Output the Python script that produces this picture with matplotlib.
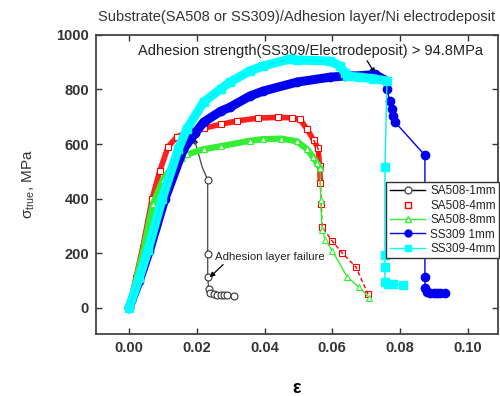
import matplotlib
matplotlib.use("Agg")
import matplotlib.pyplot as plt
from matplotlib.lines import Line2D

plt.rcParams['font.family'] = ['Liberation Sans', 'DejaVu Sans']
plt.rcParams['mathtext.fontset'] = 'custom'
plt.rcParams['mathtext.rm'] = 'Liberation Sans'
plt.rcParams['mathtext.it'] = 'Liberation Sans'

# ---- data ----
labels = ["SA508-1mm", "SA508-4mm", "SA508-8mm", "SS309 1mm", "SS309-4mm"]

eps_sa1 = [0, 0.002, 0.004, 0.0068, 0.009, 0.0115, 0.014, 0.017, 0.0195, 0.0207, 0.0216,
           0.0232, 0.0232, 0.0232, 0.0235, 0.024, 0.025, 0.026, 0.027, 0.028, 0.029, 0.031]
sig_sa1 = [0, 110, 220, 400, 500, 590, 625, 640, 607, 555, 515,
           469, 198, 114, 70, 55, 50, 48, 47, 47, 46, 45]

eps_sa4 = [0, 0.002, 0.004, 0.0068, 0.009, 0.0115, 0.014, 0.017, 0.022, 0.027, 0.032, 0.038,
           0.044, 0.048, 0.0505, 0.0526, 0.0545, 0.0558, 0.0563, 0.0565, 0.0568, 0.057,
           0.06, 0.063, 0.067, 0.0706]
sig_sa4 = [0, 110, 220, 400, 500, 590, 625, 643, 658, 672, 685, 695,
           698, 696, 690, 654, 615, 585, 520, 458, 380, 297,
           245, 200, 150, 50]

eps_sa8 = [0, 0.002, 0.004, 0.007, 0.01, 0.013, 0.0155, 0.017, 0.022, 0.027, 0.0357, 0.0396,
           0.045, 0.0496, 0.0526, 0.0544, 0.0555, 0.0564, 0.0566, 0.057, 0.058, 0.06, 0.0644,
           0.068, 0.071]
sig_sa8 = [0, 100, 200, 380, 470, 520, 550, 562, 581, 592, 612, 618,
           620, 610, 581, 551, 530, 513, 395, 286, 250, 210, 114,
           75, 37]

eps_ss1 = [0, 0.003, 0.006, 0.0105, 0.016, 0.0195, 0.022, 0.027, 0.0298, 0.0357, 0.0396,
           0.0496, 0.0594, 0.0638, 0.068, 0.0727, 0.075, 0.0762, 0.077, 0.0777, 0.078, 0.0786,
           0.0874, 0.0874, 0.0874, 0.088, 0.089, 0.090, 0.091, 0.092, 0.0933]
sig_ss1 = [0, 100, 210, 397, 581, 640, 680, 720, 735, 776, 794,
           827, 845, 849, 850, 855, 838, 801, 757, 728, 702, 680,
           559, 114, 74, 58, 55, 55, 54, 55, 55]

eps_ss4 = [0, 0.003, 0.0056, 0.0097, 0.0145, 0.017, 0.022, 0.027, 0.0298, 0.0357, 0.0396,
           0.0476, 0.0496, 0.0594, 0.0623, 0.0638, 0.0644, 0.068, 0.072, 0.0762,
           0.0756, 0.0756, 0.0756, 0.0756, 0.0765, 0.078, 0.081]
sig_ss4 = [0, 110, 213, 397, 581, 654, 754, 801, 827, 868, 886,
           912, 908, 904, 886, 860, 849, 845, 840, 831,
           515, 195, 151, 96, 88, 86, 85]

xticks = [0.00, 0.02, 0.04, 0.06, 0.08, 0.10]
yticks = [0, 200, 400, 600, 800, 1000]

title = "Substrate(SA508 or SS309)/Adhesion layer/Ni electrodeposit"
note1 = "Adhesion strength(SS309/Electrodeposit) > 94.8MPa"
note2 = "Adhesion layer failure"

# ---- figure ----
fig = plt.figure(figsize=(5.0, 3.96), dpi=100)
ax = fig.add_axes([0.192, 0.157, 0.804, 0.755])

# SA508-1mm
ax.plot(eps_sa1[:9], sig_sa1[:9], color='#222222', lw=3, zorder=2)
ax.plot(eps_sa1, sig_sa1, color='#555555', lw=1, marker='o', ms=5,
        mfc='white', mec='#333333', mew=0.8, zorder=2,
        markevery=list(range(11, len(eps_sa1))))
# SA508-4mm
ax.plot(eps_sa4[:20], sig_sa4[:20], color='#ff2020', lw=4, zorder=3)
ax.plot(eps_sa4, sig_sa4, color='red', lw=0, marker='s', ms=5,
        mfc='white', mec='red', mew=0.8, zorder=3)
ax.plot(eps_sa4[16:], sig_sa4[16:], color='red', lw=1, ls=(0, (3, 2)), zorder=3)
# SA508-8mm
ax.plot(eps_sa8[:18], sig_sa8[:18], color='#33ee33', lw=4.5, zorder=4)
ax.plot(eps_sa8, sig_sa8, color='#33ee33', lw=1, marker='^', ms=5,
        mfc='white', mec='#33ee33', mew=0.8, zorder=4)
# SS309 1mm
ax.plot(eps_ss1[:17], sig_ss1[:17], color='#0000ee', lw=6.5, zorder=5,
        solid_capstyle='round')
ax.plot(eps_ss1, sig_ss1, color='#0000ee', lw=1, marker='o', ms=6,
        mfc='#0000ee', mec='#0000ee', zorder=5)
# SS309-4mm
ax.plot(eps_ss4[:20], sig_ss4[:20], color='#00ffff', lw=6.5, zorder=6,
        solid_capstyle='round')
ax.plot(eps_ss4, sig_ss4, color='#00eeee', lw=1, marker='s', ms=5.5,
        mfc='#00ffff', mec='#00ffff', zorder=6)

ax.set_xlim(-0.0098, 0.109)
ax.set_ylim(-95, 1000)
ax.set_xticks(xticks)
ax.set_xticklabels([f"{v:.2f}" for v in xticks])
ax.set_yticks(yticks)
ax.tick_params(direction='in', length=4, width=1, top=True, right=True,
               labelsize=10.5, colors='#333333', pad=5)
for lab in ax.get_xticklabels() + ax.get_yticklabels():
    lab.set_fontweight('bold')
for s in ax.spines.values():
    s.set_linewidth(1.3)
    s.set_color('#444444')

ax.set_title(title, fontsize=10.5, color='#333333', pad=10)
ax.set_xlabel('ε', fontsize=13, fontweight='bold', labelpad=18)
ax.set_ylabel(r'$\sigma_{true}$, MPa', fontsize=11, color='#333333', labelpad=14)

ax.annotate(note1, xy=(0.0727, 857), xytext=(0.0535, 941), ha='center', va='center',
            fontsize=10.5, color='#222222',
            arrowprops=dict(arrowstyle='-|>', color='black', lw=0.9,
                            mutation_scale=8, shrinkA=0, shrinkB=0,
                            relpos=(0.66, 0.0)))
ax.annotate(note2, xy=(0.0238, 112), xytext=(0.0254, 187), ha='left', va='center',
            fontsize=8.2, color='#222222',
            arrowprops=dict(arrowstyle='-|>', color='black', lw=0.9,
                            mutation_scale=7, shrinkA=0, shrinkB=0,
                            relpos=(0.1, 0.0)))

handles = [
    Line2D([], [], color='black', lw=1, marker='o', ms=5, mfc='white', mec='#555555'),
    Line2D([], [], color='red', lw=0, marker='s', ms=5, mfc='white', mec='red'),
    Line2D([], [], color='#33ee33', lw=1, marker='^', ms=5, mfc='white', mec='#33ee33'),
    Line2D([], [], color='#0000ee', lw=1, marker='o', ms=5, mfc='#0000ee', mec='#0000ee'),
    Line2D([], [], color='#00ffff', lw=1, marker='s', ms=5, mfc='#00ffff', mec='#00ffff'),
]
leg = ax.legend(handles, labels, loc='upper right', bbox_to_anchor=(1.003, 0.508),
                fontsize=8.5, labelspacing=0.2, handlelength=3.0, handletextpad=0.4,
                borderpad=0.3, borderaxespad=0, fancybox=False, framealpha=1,
                edgecolor='#333333')
leg.get_frame().set_linewidth(1.0)
for t in leg.get_texts():
    t.set_color('#222222')
leg.set_zorder(10)

fig.savefig('out.png', dpi=100)
